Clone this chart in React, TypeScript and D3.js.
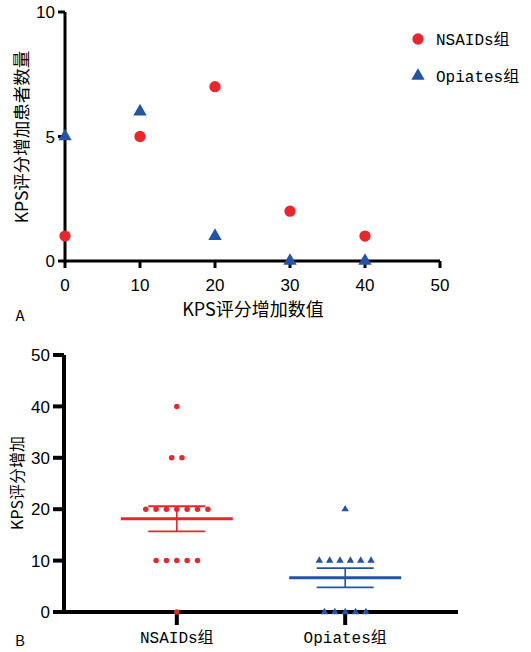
import React from 'react';
import * as d3 from 'd3';

const RED = '#e8262b';
const BLUE = '#2454a6';

// Panel A data
const kpsIncrease = [0, 10, 20, 30, 40];
const nsaidsCounts = [1, 5, 7, 2, 1];
const opiatesCounts = [5, 6, 1, 0, 0];
const xTicksA = [0, 10, 20, 30, 40, 50];
const yTicksA = [0, 5, 10];

// Panel B data
const groups = ['NSAIDs组', 'Opiates组'];
const nsaidsValues = [40, 30, 30, 20, 20, 20, 20, 20, 20, 20, 10, 10, 10, 10, 10, 0];
const opiatesValues = [20, 10, 10, 10, 10, 10, 10, 0, 0, 0, 0, 0];
const yTicksB = [0, 10, 20, 30, 40, 50];

const CJK = '"Noto Sans CJK SC", sans-serif';
const MONO = '"Liberation Mono", "Noto Sans CJK SC", monospace';
const NUM = '"Liberation Sans", Arial, sans-serif';

function swarm(values: number[], spacing: number) {
  const counts = d3.rollup(values, v => v.length, v => v);
  const seen = new Map<number, number>();
  return values.map(v => {
    const n = counts.get(v) || 1;
    const i = seen.get(v) || 0;
    seen.set(v, i + 1);
    return { v, dx: (i - (n - 1) / 2) * spacing };
  });
}

function stats(values: number[]) {
  const m = d3.mean(values) as number;
  const sd = d3.deviation(values) as number;
  return { m, sem: sd / Math.sqrt(values.length) };
}

export default function App() {
  // Panel A scales
  const xA = d3.scaleLinear().domain([0, 50]).range([65, 440]);
  const yA = d3.scaleLinear().domain([0, 10]).range([261, 12]);
  const circleBig = d3.symbol().type(d3.symbolCircle).size(100)() as string;
  const triBig = d3.symbol().type(d3.symbolTriangle).size(78)() as string;

  // Panel B scales
  const xB = d3.scalePoint<string>().domain(groups).range([64, 458]).padding(0.67);
  const yB = d3.scaleLinear().domain([0, 50]).range([612, 355]);
  const circleSmall = d3.symbol().type(d3.symbolCircle).size(24)() as string;
  const triSmall = d3.symbol().type(d3.symbolTriangle).size(24)() as string;

  const seriesB = [
    { name: groups[0], values: nsaidsValues, color: RED, shape: circleSmall },
    { name: groups[1], values: opiatesValues, color: BLUE, shape: triSmall },
  ];

  return (
    <svg width={531} height={652} style={{ position: 'absolute', left: 0, top: 0, background: '#fff' }}>
      {/* ===== Panel A ===== */}
      <g>
        <line x1={xA(0)} x2={xA(50)} y1={yA(0)} y2={yA(0)} stroke="#000" strokeWidth={3} />
        <line x1={xA(0)} x2={xA(0)} y1={yA(0) + 1.5} y2={yA(10)} stroke="#000" strokeWidth={3} />
        {yTicksA.map(t => (
          <g key={'ya' + t}>
            <line x1={xA(0) - 7} x2={xA(0)} y1={yA(t)} y2={yA(t)} stroke="#000" strokeWidth={3} />
            <text x={xA(0) - 10} y={yA(t)} dy="0.36em" textAnchor="end" fontFamily={NUM} fontSize={17}>{t}</text>
          </g>
        ))}
        {xTicksA.map(t => (
          <g key={'xa' + t}>
            <line x1={xA(t)} x2={xA(t)} y1={yA(0)} y2={yA(0) + 7} stroke="#000" strokeWidth={3} />
            <text x={xA(t)} y={285} dy="0.36em" textAnchor="middle" fontFamily={NUM} fontSize={17}>{t}</text>
          </g>
        ))}
        <text x={253} y={310} dy="0.36em" textAnchor="middle" fontFamily={CJK} fontSize={18}>KPS评分增加数值</text>
        <text transform={`translate(22,137) rotate(-90)`} dy="0.36em" textAnchor="middle" fontFamily={CJK} fontSize={17.5}>KPS评分增加患者数量</text>
        <text x={20} y={316} dy="0.36em" textAnchor="middle" fontFamily={CJK} fontSize={15}>A</text>

        {kpsIncrease.map((k, i) => (
          <path key={'na' + i} d={circleBig} transform={`translate(${xA(k)},${yA(nsaidsCounts[i])})`} fill={RED} />
        ))}
        {kpsIncrease.map((k, i) => (
          <path key={'oa' + i} d={triBig} transform={`translate(${xA(k)},${yA(opiatesCounts[i])})`} fill={BLUE} />
        ))}

        {/* legend */}
        <path d={circleBig} transform="translate(418,39)" fill={RED} />
        <text x={436} y={39} dy="0.36em" fontFamily={MONO} fontSize={16}>NSAIDs组</text>
        <path d={triBig} transform="translate(418,76)" fill={BLUE} />
        <text x={436} y={76} dy="0.36em" fontFamily={MONO} fontSize={16}>Opiates组</text>
      </g>

      {/* ===== Panel B ===== */}
      <g>
        <line x1={64} x2={458} y1={yB(0)} y2={yB(0)} stroke="#000" strokeWidth={4} />
        <line x1={64} x2={64} y1={yB(0) + 2} y2={yB(50)} stroke="#000" strokeWidth={4} />
        {yTicksB.map(t => (
          <g key={'yb' + t}>
            <line x1={53} x2={64} y1={yB(t)} y2={yB(t)} stroke="#000" strokeWidth={4} />
            <text x={50} y={yB(t)} dy="0.36em" textAnchor="end" fontFamily={NUM} fontSize={17}>{t}</text>
          </g>
        ))}
        {groups.map(g => (
          <g key={'xb' + g}>
            <line x1={xB(g)} x2={xB(g)} y1={yB(0)} y2={yB(0) + 13} stroke="#000" strokeWidth={4} />
            <text x={xB(g)} y={637} dy="0.36em" textAnchor="middle" fontFamily={MONO} fontSize={16}>{g}</text>
          </g>
        ))}
        <text transform={`translate(17,483) rotate(-90)`} dy="0.36em" textAnchor="middle" fontFamily={CJK} fontSize={16}>KPS评分增加</text>
        <text x={20} y={641} dy="0.36em" textAnchor="middle" fontFamily={CJK} fontSize={15}>B</text>

        {seriesB.map(s => {
          const cx = xB(s.name) as number;
          const st = stats(s.values);
          return (
            <g key={s.name}>
              {swarm(s.values, 10.35).map((p, i) => (
                <path key={i} d={s.shape} transform={`translate(${cx + p.dx},${yB(p.v)})`} fill={s.color} />
              ))}
              <line x1={cx - 56} x2={cx + 56} y1={yB(st.m)} y2={yB(st.m)} stroke={s.color} strokeWidth={3} />
              <line x1={cx} x2={cx} y1={yB(st.m - st.sem)} y2={yB(st.m + st.sem)} stroke={s.color} strokeWidth={1.6} />
              <line x1={cx - 28.5} x2={cx + 28.5} y1={yB(st.m + st.sem)} y2={yB(st.m + st.sem)} stroke={s.color} strokeWidth={1.8} />
              <line x1={cx - 28.5} x2={cx + 28.5} y1={yB(st.m - st.sem)} y2={yB(st.m - st.sem)} stroke={s.color} strokeWidth={1.8} />
            </g>
          );
        })}
      </g>
    </svg>
  );
}
